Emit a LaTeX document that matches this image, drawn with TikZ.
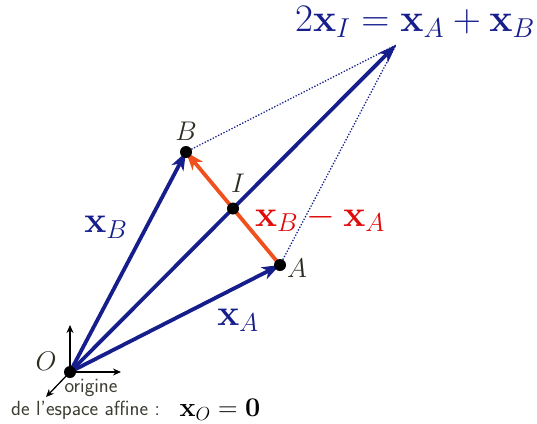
\RequirePackage{fix-cm}
\documentclass[tikz,border=0pt]{standalone}
\usepackage{amsmath}
\usetikzlibrary{arrows.meta}
\definecolor{navy}{RGB}{22,30,140}
\definecolor{orng}{RGB}{240,80,30}
\definecolor{rd}{RGB}{225,10,10}
\definecolor{lbl}{RGB}{45,45,35}
\definecolor{grtxt}{RGB}{60,60,50}
\begin{document}
\begin{tikzpicture}[x=1pt,y=-1pt,
  vec/.style={navy,line width=3.8pt,-{Stealth[length=18pt,width=13pt,inset=5pt]}},
  dif/.style={orng,line width=3.8pt,-{Stealth[length=18pt,width=13pt,inset=5pt]}},
  dots/.style={navy,line width=1.3pt,dash pattern=on 1.3pt off 1.7pt},
  pt/.style={circle,fill=black,inner sep=0pt,minimum size=12pt},
  ptlab/.style={lbl,font=\fontsize{27}{30}\selectfont},
  axis/.style={black,line width=1.3pt,-{Stealth[length=8pt,width=7pt]}},
  bigm/.style={font=\fontsize{37}{40}\selectfont},
  sftxt/.style={grtxt,font=\sffamily\fontsize{20.5}{22}\selectfont,inner sep=0pt}]
\useasboundingbox (0,0) rectangle (537,423);
% points
\coordinate (O) at (70,372);
\coordinate (A) at (280,265);
\coordinate (B) at (186,152);
\coordinate (I) at (233,208.5);
\coordinate (S) at (396,45);
\coordinate (ax1) at (70,325);
\coordinate (ax2) at (121,372);
\coordinate (ax3) at (46,397);
% dotted parallelogram sides
\draw[dots] (B) -- (S);
\draw[dots] (A) -- (S);
% axes
\draw[axis] (O) -- (ax1);
\draw[axis] (O) -- (ax2);
\draw[axis] (O) -- (ax3);
% vectors
\draw[vec] (O) -- (S);
\draw[vec] (O) -- (A);
\draw[vec] (O) -- (B);
\draw[dif] (A) -- (B);
% dots
\node[pt] (nO) at (O) {};
\node[pt] (nA) at (A) {};
\node[pt] (nB) at (B) {};
\node[pt] (nI) at (I) {};
% point labels
\node[ptlab] (lO) at (46,361) {$O$};
\node[ptlab] (lA) at (297,268) {$A$};
\node[ptlab] (lB) at (186,131) {$B$};
\node[ptlab] (lI) at (238,183) {$I$};
% vector labels
\node[navy,bigm] (lxA) at (238,320) {$\mathbf{x}_A$};
\node[navy,bigm] (lxB) at (106,227) {$\mathbf{x}_B$};
\node[rd,bigm] (ldiff) at (320,218) {$\mathbf{x}_B-\mathbf{x}_A$};
\node[navy,font=\fontsize{39}{42}\selectfont] (top) at (415,22) {$2\mathbf{x}_I=\mathbf{x}_A+\mathbf{x}_B$};
% origin text
\node[sftxt] (t1) at (91,388) {origine};
\node[sftxt,anchor=west] (t2) at (11,410) {de l'espace affine :};
\node[font=\fontsize{27}{30}\selectfont,anchor=west] (t3) at (176,410) {$\mathbf{x}_O=\mathbf{0}$};
\end{tikzpicture}
\end{document}
